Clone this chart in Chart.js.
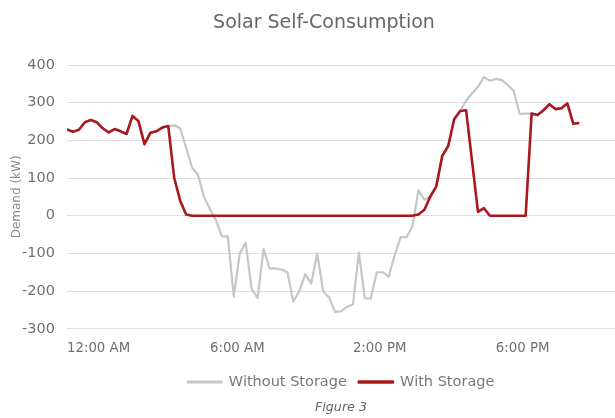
<!DOCTYPE html>
<html>
<head>
<meta charset="utf-8">
<title>Solar Self-Consumption</title>
<script src="https://cdn.jsdelivr.net/npm/chart.js@4.4.1/dist/chart.umd.min.js"></script>
<style>
  html, body { margin: 0; padding: 0; background: #fff; }
  #wrap { width: 615px; height: 418px; }
</style>
</head>
<body>
<div id="wrap"><canvas id="solarChart" width="615" height="418"></canvas></div>
<script>
// axis labels and where they sit along the sample index
const timeLabels = ['12:00 AM', '6:00 AM', '2:00 PM', '6:00 PM'];
const labelSteps = [0, 24, 48, 72];

// demand in kW, one value per sample
const withoutStorage = [
    229, 223, 228, 248, 254, 248, 232, 221, 230, 224,
    217, 265, 251, 190, 220, 224, 234, 238, 240, 232,
    180, 128, 108, 50, 18, -12, -55, -55, -215, -100,
    -72, -195, -218, -88, -140, -140, -143, -150, -228, -200,
    -155, -180, -100, -200, -217, -255, -254, -242, -235, -98,
    -219, -220, -150, -150, -162, -105, -57, -57, -28, 68,
    42, 51, 78, 159, 185, 256, 278, 305, 325, 342,
    368, 358, 363, 360, 347, 331, 270, 271, 271, 267,
    280, 296, 283, 285, 298, 244, 246
];
const withStorage = [
    229, 223, 228, 248, 254, 248, 232, 221, 230, 224,
    217, 265, 251, 190, 220, 224, 234, 238, 100, 40,
    3, 0, 0, 0, 0, 0, 0, 0, 0, 0,
    0, 0, 0, 0, 0, 0, 0, 0, 0, 0,
    0, 0, 0, 0, 0, 0, 0, 0, 0, 0,
    0, 0, 0, 0, 0, 0, 0, 0, 0, 3,
    16, 51, 78, 159, 185, 256, 278, 280, 145, 10,
    20, 0, 0, 0, 0, 0, 0, 0, 271, 267,
    280, 296, 283, 285, 298, 244, 246
];

const grayLine = '#c6c6c6';
const redLine = '#a8181d';

Chart.defaults.font.family = "'DejaVu Sans', sans-serif";

const toPoints = values => values.map((v, i) => ({ x: i, y: v }));

// nudge the heading a little right of the canvas centre
const titleShift = {
    id: 'titleShift',
    afterLayout(chart) {
        if (chart.titleBlock) chart.titleBlock.left = 33;
    }
};

new Chart(document.getElementById('solarChart'), {
    type: 'line',
    data: {
        datasets: [
            {
                label: 'Without Storage',
                data: toPoints(withoutStorage),
                borderColor: grayLine,
                backgroundColor: grayLine,
                borderWidth: 2.2,
                pointRadius: 0,
                borderJoinStyle: 'round',
                order: 1
            },
            {
                label: 'With Storage',
                data: toPoints(withStorage),
                borderColor: redLine,
                backgroundColor: redLine,
                borderWidth: 2.6,
                pointRadius: 0,
                borderJoinStyle: 'round',
                order: 0
            }
        ]
    },
    options: {
        responsive: false,
        animation: false,
        layout: { padding: 0 },
        scales: {
            x: {
                type: 'linear',
                min: 0,
                max: 92,
                afterBuildTicks: scale => {
                    scale.ticks = labelSteps.map(v => ({ value: v }));
                },
                afterFit: scale => { scale.height = 34; },
                grid: { display: false, drawTicks: false },
                border: { display: false },
                ticks: {
                    align: 'start',
                    padding: 12,
                    maxRotation: 0,
                    autoSkip: false,
                    color: '#6f6f6f',
                    font: { size: 13.3 },
                    callback: (value, index) => timeLabels[index]
                }
            },
            y: {
                min: -300,
                max: 400,
                afterFit: scale => { scale.width = 67; },
                ticks: {
                    stepSize: 100,
                    padding: 12,
                    color: '#707070',
                    font: { size: 14.5 }
                },
                grid: { color: '#dedede', drawTicks: false },
                border: { display: false },
                title: {
                    display: true,
                    text: 'Demand (kW)',
                    color: '#8a8a8a',
                    font: { size: 12 },
                    padding: { top: 9.8, bottom: 0 }
                }
            }
        },
        plugins: {
            title: {
                display: true,
                text: 'Solar Self-Consumption',
                color: '#666',
                font: { size: 19, weight: 'normal' },
                padding: { top: 12, bottom: 30.2 }
            },
            legend: {
                position: 'bottom',
                fullSize: false,
                labels: {
                    boxWidth: 34,
                    boxHeight: 1,
                    padding: 12,
                    color: '#777',
                    font: { size: 14.5 },
                    sort: (a, b) => a.datasetIndex - b.datasetIndex
                }
            },
            subtitle: {
                display: true,
                position: 'bottom',
                fullSize: false,
                text: 'Figure 3',
                color: '#666',
                font: { size: 12.7, style: 'italic' },
                padding: { top: 1.2, bottom: 2.3 }
            },
            tooltip: { enabled: false }
        }
    },
    plugins: [titleShift]
});
</script>
</body>
</html>
